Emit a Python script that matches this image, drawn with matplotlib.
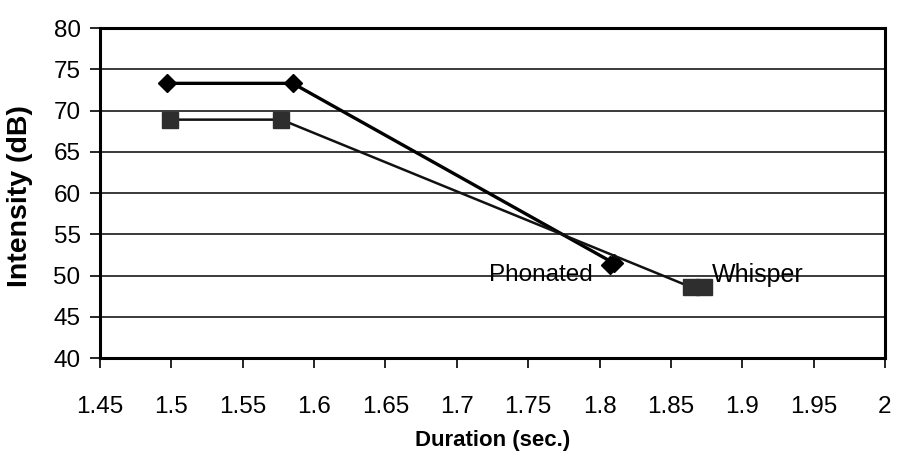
import matplotlib
matplotlib.use("Agg")
import matplotlib.pyplot as plt

plt.rcParams['font.family'] = ['Liberation Sans', 'DejaVu Sans']

phonated_x = [1.497, 1.585, 1.81, 1.807]
phonated_y = [73.3, 73.3, 51.5, 51.3]
whisper_x = [1.499, 1.577, 1.864, 1.8735]
whisper_y = [68.9, 68.9, 48.6, 48.6]

x_ticks = [1.45, 1.5, 1.55, 1.6, 1.65, 1.7, 1.75, 1.8, 1.85, 1.9, 1.95, 2.0]
x_tick_labels = ["1.45", "1.5", "1.55", "1.6", "1.65", "1.7", "1.75", "1.8", "1.85", "1.9", "1.95", "2"]
y_ticks = [40, 45, 50, 55, 60, 65, 70, 75, 80]

fig = plt.figure(figsize=(8.98, 4.53), dpi=100)
ax = fig.add_axes([0.1114, 0.2097, 0.8741, 0.7283])

ax.set_xlim(1.45, 2.0)
ax.set_ylim(40, 80)
ax.set_xticks(x_ticks)
ax.set_xticklabels(x_tick_labels)
ax.set_yticks(y_ticks)

for y in y_ticks:
    ax.axhline(y, color='#3a3a3a', lw=1.4, zorder=1)

ax.plot(phonated_x, phonated_y, color='black', lw=2.4, marker='D', ms=9,
        markerfacecolor='black', markeredgecolor='black', zorder=3)
ax.plot(whisper_x, whisper_y, color='#111111', lw=1.8, marker='s', ms=12,
        markerfacecolor='#2e2e2e', markeredgecolor='#2e2e2e', zorder=3)

ax.text(1.795, 50.06, "Phonated", ha='right', va='center', fontsize=17.5)
ax.text(1.879, 50.06, "Whisper", ha='left', va='center', fontsize=18)

for s in ax.spines.values():
    s.set_linewidth(2.2)
    s.set_color('black')

ax.tick_params(axis='both', direction='out', length=7, width=1.2, labelsize=17.5, colors='black')
ax.tick_params(axis='x', pad=20)
ax.tick_params(axis='y', pad=7)
ax.set_xlabel("Duration (sec.)", fontsize=16, fontweight='bold', labelpad=9)
ax.set_ylabel("Intensity (dB)", fontsize=20.5, fontweight='bold')
ax.yaxis.set_label_coords(-0.085, 0.49)

fig.savefig("out.png", dpi=100)
